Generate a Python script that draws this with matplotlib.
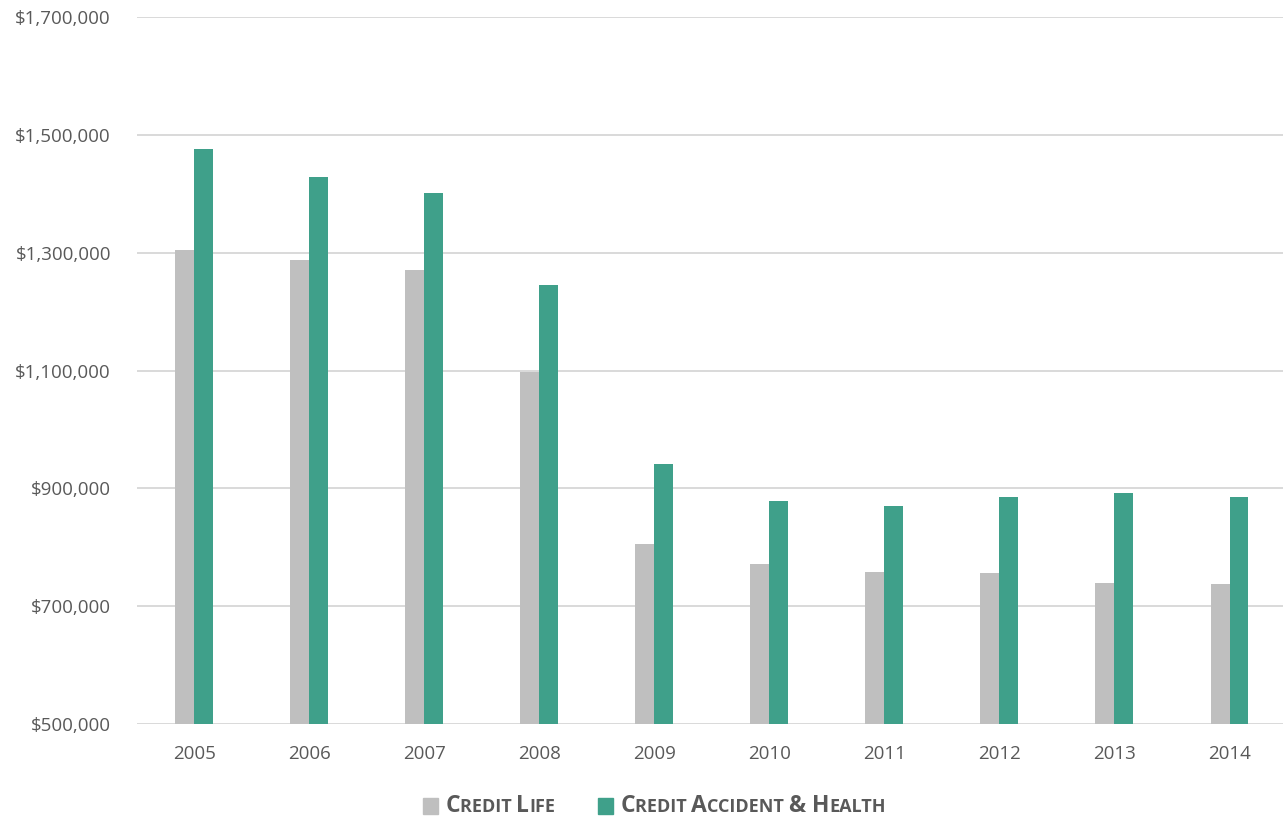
import numpy as np
import matplotlib
matplotlib.use("Agg")
import matplotlib.pyplot as plt
from matplotlib.offsetbox import TextArea, DrawingArea, HPacker, AnchoredOffsetbox
from matplotlib.patches import Rectangle
from matplotlib.ticker import FuncFormatter

# data
years = ["2005", "2006", "2007", "2008", "2009", "2010", "2011", "2012", "2013", "2014"]
credit_life = [1305000, 1288000, 1271000, 1098000, 805000, 772000, 758000, 756000, 740000, 738000]
credit_ah = [1476000, 1429000, 1402000, 1245000, 941000, 878000, 870000, 885000, 893000, 885000]

GREY = "#bfbfbf"
GREEN = "#3fa08a"
TEXT = "#595959"

plt.rcParams["font.family"] = ["Open Sans", "DejaVu Sans"]

fig = plt.figure(figsize=(12.83, 8.19), dpi=100)
ax = fig.add_axes([0.107, 0.116, 0.893, 0.863])

x = np.arange(len(years))
w = 0.165
ax.bar(x - w / 2, credit_life, width=w, color=GREY, zorder=2)
ax.bar(x + w / 2, credit_ah, width=w, color=GREEN, zorder=2)

ax.set_xlim(-0.495, 9.465)
ax.set_ylim(500000, 1700000)
ax.set_yticks(np.arange(500000, 1700001, 200000))
ax.yaxis.set_major_formatter(FuncFormatter(lambda v, p: "${:,.0f}".format(v)))
ax.set_xticks(x)
ax.set_xticklabels(years)
ax.grid(axis="y", color="#d9d9d9", linewidth=1.4, zorder=0)
ax.set_axisbelow(True)
for s in ax.spines.values():
    s.set_visible(False)
ax.tick_params(length=0, labelsize=13.5, labelcolor=TEXT)
ax.tick_params(axis="x", pad=15)
ax.tick_params(axis="y", pad=19)


# legend with small caps built from pieces
def small_caps(parts):
    kids = []
    for txt, big in parts:
        kids.append(TextArea(txt, textprops=dict(fontsize=16.5 if big else 13,
                                                 fontweight="bold", color=TEXT)))
    return HPacker(children=kids, align="baseline", pad=0, sep=0)


def swatch(color):
    da = DrawingArea(11, 11, 0, 0)
    da.add_artist(Rectangle((0, 0), 11, 11, color=color))
    return da


items = [
    (GREY, [("C", True), ("REDIT ", False), ("L", True), ("IFE", False)]),
    (GREEN, [("C", True), ("REDIT ", False), ("A", True), ("CCIDENT ", False),
             ("&", True), (" H", True), ("EALTH", False)]),
]
boxes = []
for color, parts in items:
    boxes.append(HPacker(children=[swatch(color), small_caps(parts)],
                         align="center", pad=0, sep=5))
leg = HPacker(children=boxes, align="center", pad=0, sep=31)
anchored = AnchoredOffsetbox(loc="center", child=leg, frameon=False,
                             bbox_to_anchor=(0.51, 0.016), bbox_transform=fig.transFigure,
                             borderpad=0, pad=0)
fig.add_artist(anchored)

fig.savefig("out.png", dpi=100)
